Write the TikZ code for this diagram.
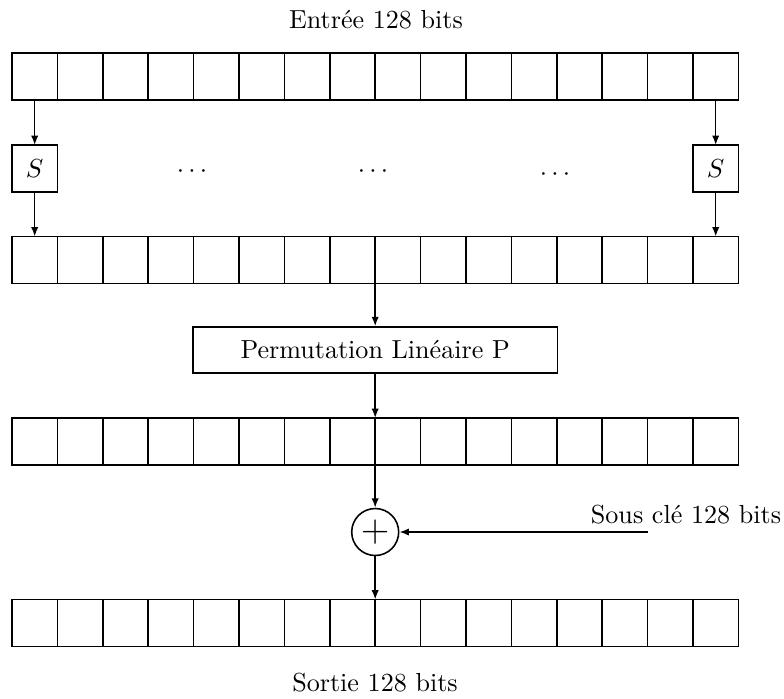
\documentclass[tikz,border=0pt]{standalone}
\usepackage{tikz}
\usetikzlibrary{arrows.meta,calc}
\tikzset{
  cell/.style = {draw, minimum width=0.6115cm, minimum height=0.633cm,
    inner sep=0pt, outer sep=0pt},
  sbox/.style = {cell},
  flow/.style = {-{Latex[length=3.6pt,width=2.8pt]}}
}

\begin{document}
\begin{tikzpicture}[x=0.01347cm, y=-0.01347cm, semithick]
\useasboundingbox (0,0) rectangle (784,698);

  % four registers of 16 cells
  \foreach \r/\y in {1/76.5, 2/260, 3/441.5, 4/623}
    \foreach \x in {1,...,16}{
       \node[cell] (r\r-\x) at (12+45.4*\x-22.7, \y) {};
     }

  \node (input)  at (376,20)  {Entrée 128 bits};
  \node (output) at (375,683) {Sortie 128 bits};

  \node[sbox] (s1)  at (r1-1 |- 0,168.5)  {$S$};
  \node[sbox] (s16) at (r1-16 |- 0,168.5) {$S$};

  \node (dots1) at (192,172) {$\cdots$};
  \node (dots2) at (373,172) {$\cdots$};
  \node (dots3) at (555,175) {$\cdots$};

  \node[draw, minimum width=4.917cm, minimum height=0.62cm] (perm)
     at (r2-8.south east |- 0,350) {Permutation Linéaire P};

  \node[draw, circle, minimum size=0.633cm, inner sep=0pt] (xor)
     at (r3-8.south east |- 0,532) {\Large $+$};

  \coordinate (key) at (648,532);
  \node (keylabel) at (686,515) {Sous clé 128 bits};

  \draw[flow] (r1-1) -- (s1);
  \draw[flow] (s1) -- (r2-1);
  \draw[flow] (r1-16) -- (s16);
  \draw[flow] (s16) -- (r2-16);

  \draw[flow] (r2-8.south east) -- (perm);
  \draw[flow] (perm) -- (r3-8.north east);
  \draw[flow] (r3-8.south east) -- (xor);
  \draw[flow] (xor) -- (r4-8.north east);
  \draw[flow] (key) -- (xor);

\end{tikzpicture}
\end{document}
